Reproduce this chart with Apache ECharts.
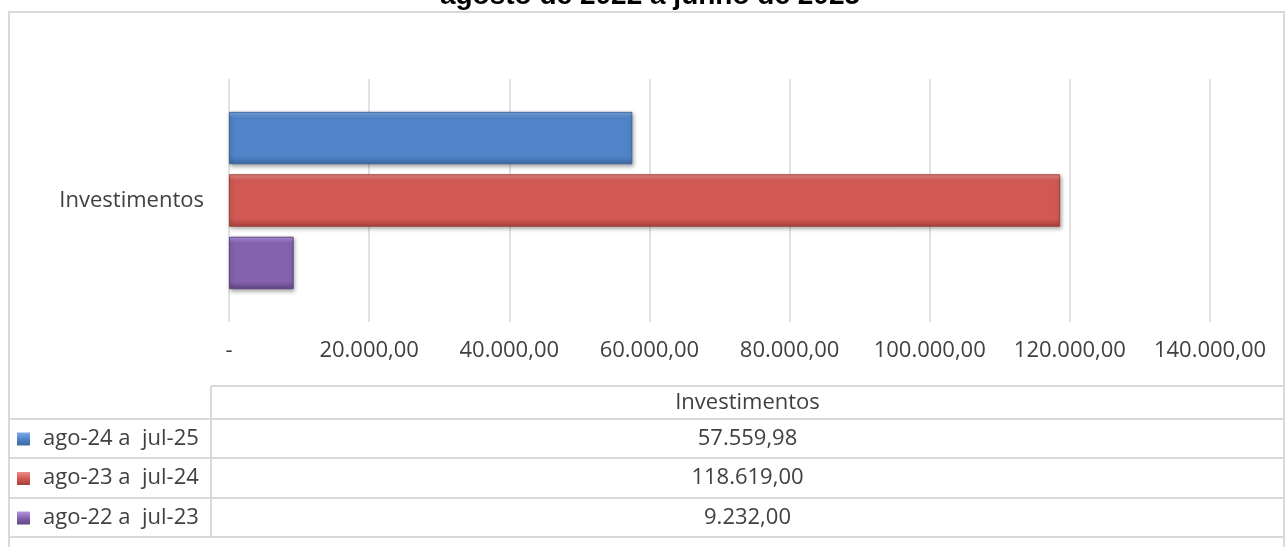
<!DOCTYPE html>
<html>
<head>
<meta charset="utf-8">
<script src="https://cdn.jsdelivr.net/npm/echarts@6/dist/echarts.min.js"></script>
<style>
  html, body { margin: 0; padding: 0; background: #ffffff; }
  #chart { width: 1286px; height: 547px; }
</style>
</head>
<body>
<div id="chart"></div>
<script>
// Investment totals per period (R$)
const titleText = 'agosto de 2022 a junho de 2025';
const categories = ['Investimentos'];
const periods = ['ago-24 a  jul-25', 'ago-23 a  jul-24', 'ago-22 a  jul-23'];
const values = [57559.98, 118619.00, 9232.00];
const axisTicks = [0, 20000, 40000, 60000, 80000, 100000, 120000, 140000];

// bar colours: highlight, base, shade
const palette = [
  ['#7eaae6', '#5084c8', '#3c689f'],
  ['#ec8f89', '#d25853', '#a5413d'],
  ['#b697e2', '#8462ae', '#5f4583']
];

const FONT = 'Open Sans';
const TEXT = '#404040';
const LINE = '#d9d9d9';
const FS = 22;

// pt-BR number format: 118.619,00
function fmt(v) {
  const parts = v.toFixed(2).split('.');
  const int = parts[0].replace(/\B(?=(\d{3})+(?!\d))/g, '.');
  return int + ',' + parts[1];
}

const chart = echarts.init(document.getElementById('chart'), null, { renderer: 'canvas' });

const series = periods.map((name, i) => ({
  name: name,
  type: 'bar',
  barGap: '19%',
  barCategoryGap: '27%',
  data: [values[i]],
  itemStyle: {
    color: new echarts.graphic.LinearGradient(0, 0, 0, 1, [
      { offset: 0, color: palette[i][0] },
      { offset: 0.12, color: palette[i][1] },
      { offset: 0.85, color: palette[i][1] },
      { offset: 1, color: palette[i][2] }
    ]),
    borderColor: palette[i][2],
    borderWidth: 1,
    shadowColor: 'rgba(0,0,0,0.35)',
    shadowBlur: 4,
    shadowOffsetX: 1,
    shadowOffsetY: 2
  }
}));

// data table under the plot
const tLeft = 9, tCol = 211, tRight = 1284;
const headTop = 386;
const rowLines = [419, 458, 498, 537];
const table = [];
table.push({ type: 'line', shape: { x1: tCol, y1: headTop, x2: tRight, y2: headTop }, style: { stroke: LINE, lineWidth: 2 } });
rowLines.forEach(y => {
  table.push({ type: 'line', shape: { x1: tLeft, y1: y, x2: tRight, y2: y }, style: { stroke: LINE, lineWidth: 2 } });
});
table.push({ type: 'line', shape: { x1: tCol, y1: headTop, x2: tCol, y2: rowLines[rowLines.length - 1] }, style: { stroke: LINE, lineWidth: 2 } });
table.push({
  type: 'text', x: (tCol + tRight) / 2, y: (headTop + rowLines[0]) / 2,
  style: { text: categories[0], font: FS + 'px ' + FONT, fill: TEXT, align: 'center', verticalAlign: 'middle' }
});
periods.forEach((name, i) => {
  const top = rowLines[i], bot = rowLines[i + 1];
  const cy = (top + bot) / 2;
  table.push({
    type: 'rect', shape: { x: 17, y: cy - 6, width: 13, height: 13 },
    style: {
      fill: new echarts.graphic.LinearGradient(0, 0, 0, 1, [
        { offset: 0, color: palette[i][0] },
        { offset: 0.5, color: palette[i][1] },
        { offset: 1, color: palette[i][2] }
      ])
    }
  });
  table.push({
    type: 'text', x: 43, y: cy,
    style: { text: name, font: FS + 'px ' + FONT, fill: TEXT, align: 'left', verticalAlign: 'middle' }
  });
  table.push({
    type: 'text', x: (tCol + tRight) / 2, y: cy,
    style: { text: fmt(values[i]), font: FS + 'px ' + FONT, fill: TEXT, align: 'center', verticalAlign: 'middle' }
  });
});

chart.setOption({
  backgroundColor: '#ffffff',
  animation: false,
  title: {
    text: titleText,
    left: 650,
    textAlign: 'center',
    top: -18,
    padding: 0,
    textStyle: { fontFamily: 'Liberation Sans', fontWeight: 'bold', fontSize: 28, color: '#000000' }
  },
  grid: { left: 229, right: 76, top: 79, bottom: 225, containLabel: false },
  xAxis: {
    type: 'value',
    min: axisTicks[0],
    max: axisTicks[axisTicks.length - 1],
    interval: axisTicks[1] - axisTicks[0],
    axisLine: { show: false },
    axisTick: { show: false },
    splitLine: { show: true, lineStyle: { color: LINE, width: 1.5 } },
    axisLabel: {
      margin: 18,
      fontFamily: FONT, fontSize: FS, color: TEXT,
      formatter: v => (v === 0 ? '-' : fmt(v))
    }
  },
  yAxis: {
    type: 'category',
    data: categories,
    axisLine: { show: false },
    axisTick: { show: false },
    axisLabel: { margin: 25, fontFamily: FONT, fontSize: FS, color: TEXT }
  },
  series: series,
  graphic: [
    { type: 'rect', shape: { x: 9, y: 12, width: 1275, height: 560 }, style: { fill: 'none', stroke: LINE, lineWidth: 2 }, z: -1 }
  ].concat(table)
});
</script>
</body>
</html>
